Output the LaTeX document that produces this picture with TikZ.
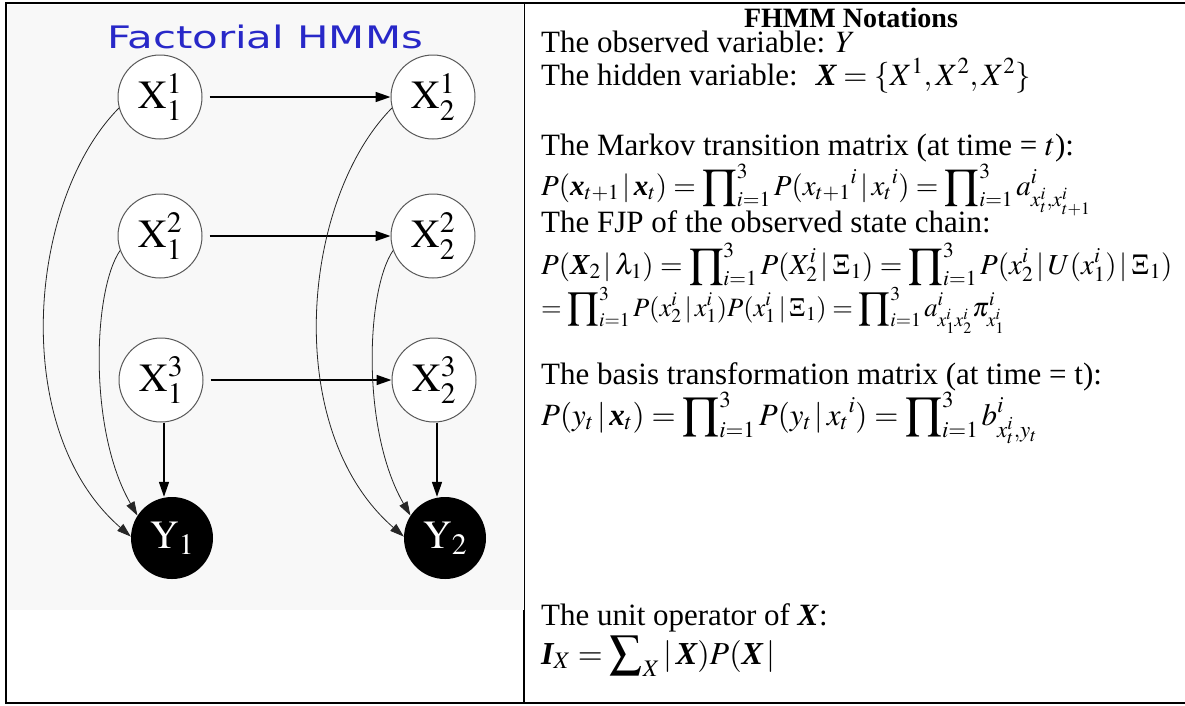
\documentclass[tikz,border=0pt]{standalone}
\usepackage{amsmath}
\usepackage{mathptmx}
\usepackage[no-math]{fontspec}
\setmainfont{Liberation Serif}
\newfontfamily\titlefont{DejaVu Sans}
\usepackage{graphicx}
\usetikzlibrary{arrows.meta,calc}
\definecolor{titleblue}{RGB}{40,40,200}
\definecolor{bggray}{RGB}{248,248,248}
\newcommand{\bv}[1]{\text{\bfseries\itshape #1}}
\begin{document}
\begin{tikzpicture}[x=1pt,y=-1pt,
  state/.style={circle,draw=black!65,line width=1pt,fill=white,minimum size=84pt,inner sep=0pt,
    font=\fontsize{40}{40}\selectfont},
  obs/.style={circle,fill=black,text=white,minimum size=82pt,inner sep=0pt,
    font=\fontsize{40}{40}\selectfont},
  harr/.style={line width=1.6pt,-{Triangle[length=15pt,width=10pt]},shorten <=7pt},
  carr/.style={line width=0.8pt,draw=black!85,-{Triangle[length=14pt,width=9pt]}},
  txt/.style={anchor=base west,inner sep=0pt,font=\fontsize{31}{34}\selectfont},
  mth/.style={anchor=base west,inner sep=0pt,font=\fontsize{#1}{34}\selectfont},
  hd/.style={anchor=base,inner sep=0pt,font=\fontsize{28}{34}\selectfont\bfseries}]
\useasboundingbox (0,0) rectangle (1185,705);
\fill[white] (0,0) rectangle (1185,705);
\fill[bggray] (8,5) rectangle (523,610);
% frame
\draw[line width=2.6pt] (5,3) -- (1185,3);
\draw[line width=2.2pt] (5,703) -- (1185,703);
\draw[line width=2.2pt] (6,2) -- (6,704);
\draw[line width=1pt] (524,3) -- (524,610);
\draw[line width=2pt] (524,610) -- (524,704);
% left graph
\node[font=\titlefont\fontsize{31}{31}\selectfont,text=titleblue,anchor=base,inner sep=0pt] (title) at (265,48)
  {\scalebox{1.35}[1]{Factorial HMMs}};
\node[state] (X11) at (160,97) {$\mathrm{X}^{1}_{1}$};
\node[state] (X21) at (433,97) {$\mathrm{X}^{1}_{2}$};
\node[state] (X12) at (160,236) {$\mathrm{X}^{2}_{1}$};
\node[state] (X22) at (433,236) {$\mathrm{X}^{2}_{2}$};
\node[state] (X13) at (161,380) {$\mathrm{X}^{3}_{1}$};
\node[state] (X23) at (434,380) {$\mathrm{X}^{3}_{2}$};
\node[obs] (Y1) at (172,538) {$\mathrm{Y}_{1}$};
\node[obs] (Y2) at (445,538) {$\mathrm{Y}_{2}$};
\draw[harr] (X11.east) -- (X21.west);
\draw[harr] (X12.east) -- (X22.west);
\draw[harr] (X13.east) -- (X23.west);
\draw[harr,shorten <=0pt] (X13.south -| 164,0) -- (164,0 |- Y1.north);
\draw[harr,shorten <=0pt] (X23.south -| 437,0) -- (437,0 |- Y2.north);
\draw[carr] (X11.195) .. controls ([shift={(-132,103)}]X11.center) and ([shift={(-152,333)}]X11.center) .. (Y1.178);
\draw[carr] (X12.200) .. controls ([shift={(-67,54)}]X12.center) and ([shift={(-72,194)}]X12.center) .. (Y1.147);
\draw[carr] (X21.195) .. controls ([shift={(-132,103)}]X21.center) and ([shift={(-152,333)}]X21.center) .. (Y2.178);
\draw[carr] (X22.200) .. controls ([shift={(-67,54)}]X22.center) and ([shift={(-72,194)}]X22.center) .. (Y2.147);
% right text
\node[hd] (hdr) at (851,27) {FHMM Notations};
\node[txt] (l1) at (541,52) {The observed variable: $Y$};
\node[txt] (l2) at (541,85) {The hidden variable: \ $\bv{X}=\{X^{1},X^{2},X^{2}\}$};
\node[txt] (l3) at (541,155) {The Markov transition matrix (at time = $t$):};
\node[mth=29] (l4) at (541,195) {$\displaystyle P(\bv{x}_{t+1}\,|\,\bv{x}_{t})=\prod\nolimits_{i=1}^{3}P({x_{t+1}}^{i}\,|\,{x_{t}}^{i})=\prod\nolimits_{i=1}^{3}a^{i}_{x^{i}_{t},x^{i}_{t+1}}$};
\node[txt] (l5) at (541,232) {The FJP of the observed state chain:};
\node[mth=29] (l6) at (541,274) {$\displaystyle P(\bv{X}_{2}\,|\,\lambda_{1})=\prod\nolimits_{i=1}^{3}P(X^{i}_{2}\,|\,\Xi_{1})=\prod\nolimits_{i=1}^{3}P(x^{i}_{2}\,|\,U(x^{i}_{1})\,|\,\Xi_{1})$};
\node[mth=26.5] (l7) at (541,316) {$\displaystyle =\prod\nolimits_{i=1}^{3}P(x^{i}_{2}\,|\,x^{i}_{1})P(x^{i}_{1}\,|\,\Xi_{1})=\prod\nolimits_{i=1}^{3}a^{i}_{x^{i}_{1}x^{i}_{2}}\pi^{i}_{x^{i}_{1}}$};
\node[txt] (l8) at (541,384) {The basis transformation matrix (at time = t):};
\node[mth=31] (l9) at (541,425) {$\displaystyle P(y_{t}\,|\,\bv{x}_{t})=\prod\nolimits_{i=1}^{3}P(y_{t}\,|\,{x_{t}}^{i})=\prod\nolimits_{i=1}^{3}b^{i}_{x^{i}_{t},y_{t}}$};
\node[txt] (l10) at (541,625) {The unit operator of \textbf{\textit{X}}:};
\node[mth=32] (l11) at (541,664) {$\displaystyle \bv{I}_{X}=\sum\nolimits_{X}|\,\bv{X})P(\bv{X}\,|$};
\end{tikzpicture}
\end{document}
